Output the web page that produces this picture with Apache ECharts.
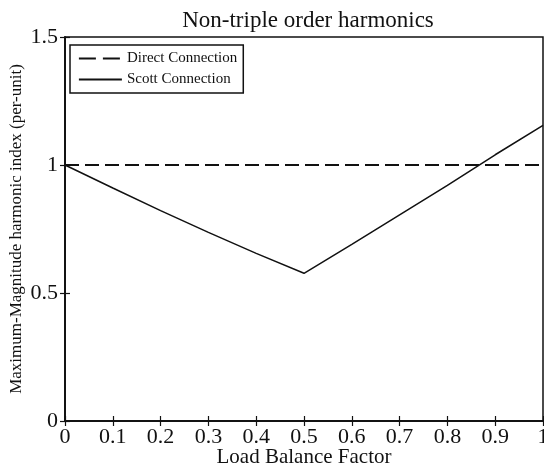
<!DOCTYPE html>
<html>
<head>
<meta charset="utf-8">
<script src="https://cdn.jsdelivr.net/npm/echarts@6/dist/echarts.min.js"></script>
<style>html,body{margin:0;padding:0;background:#fff;}#c{width:544px;height:468px;}</style>
</head>
<body>
<div id="c"></div>
<script>
var loadFactor = [0, 0.1, 0.2, 0.3, 0.4, 0.5, 0.6, 0.7, 0.8, 0.9, 1.0];
var directConn = [1, 1, 1, 1, 1, 1, 1, 1, 1, 1, 1];
var scottConn = [1.0, 0.91, 0.822, 0.737, 0.655, 0.577, 0.69, 0.805, 0.92, 1.04, 1.155];
var xTickLabels = ['0', '0.1', '0.2', '0.3', '0.4', '0.5', '0.6', '0.7', '0.8', '0.9', '1'];
var yTickLabels = {0: '0', 0.5: '0.5', 1: '1', 1.5: '1.5'};

var FONT = '"Liberation Serif", "DejaVu Serif", serif';
var chart = echarts.init(document.getElementById('c'));
function pairs(xs, ys) { return xs.map(function (x, i) { return [x, ys[i]]; }); }
var tick = {show: true, inside: true, length: 5, lineStyle: {color: '#111', width: 1.2}};
chart.setOption({
  animation: false,
  backgroundColor: '#fff',
  title: {
    text: 'Non-triple order harmonics',
    left: 303, top: 4, textAlign: 'center',
    textStyle: {fontFamily: FONT, fontSize: 23, fontWeight: 'normal', color: '#111'}
  },
  grid: {left: 65, right: 1, top: 37, bottom: 47, show: true, borderColor: '#111', borderWidth: 1.5,
    containLabel: false, outerBoundsMode: 'none'},
  legend: {
    orient: 'vertical', left: 70, top: 45,
    itemWidth: 43, itemHeight: 14, itemGap: 6,
    padding: [6, 6, 6, 8],
    borderColor: '#111', borderWidth: 1.5,
    itemStyle: {color: 'rgba(0,0,0,0)', borderWidth: 0, opacity: 0},
    textStyle: {fontFamily: FONT, fontSize: 15, color: '#111'},
    data: [
      {name: 'Direct Connection', lineStyle: {type: [17, 7], width: 1.8, color: '#111'}},
      {name: 'Scott Connection', lineStyle: {type: 'solid', width: 1.8, color: '#111'}}
    ]
  },
  xAxis: [{
    type: 'value', min: 0, max: 1, interval: 0.1,
    name: 'Load Balance Factor', nameLocation: 'middle', nameGap: 26, nameMoveOverlap: false,
    nameTextStyle: {fontFamily: FONT, fontSize: 21, color: '#111'},
    axisLine: {show: true, lineStyle: {color: '#111', width: 1.5}},
    axisTick: tick,
    axisLabel: {fontFamily: FONT, fontSize: 22, color: '#111', margin: 5,
      formatter: function (v) { return xTickLabels[Math.round(v * 10)]; }},
    splitLine: {show: false}
  }, {
    type: 'value', min: 0, max: 1, interval: 0.1, position: 'top',
    axisLine: {show: true, lineStyle: {color: '#111', width: 1.5}},
    axisTick: tick, axisLabel: {show: false}, splitLine: {show: false}
  }],
  yAxis: [{
    type: 'value', min: 0, max: 1.5, interval: 0.5,
    name: 'Maximum-Magnitude harmonic index (per-unit)', nameLocation: 'middle', nameGap: 40, nameMoveOverlap: false,
    nameTextStyle: {fontFamily: FONT, fontSize: 17, color: '#111'},
    axisLine: {show: true, lineStyle: {color: '#111', width: 1.5}},
    axisTick: tick,
    axisLabel: {fontFamily: FONT, fontSize: 22, color: '#111', margin: 7,
      formatter: function (v) { return yTickLabels[v]; }},
    splitLine: {show: false}
  }, {
    type: 'value', min: 0, max: 1.5, interval: 0.5, position: 'right',
    axisLine: {show: true, lineStyle: {color: '#111', width: 1.5}},
    axisTick: tick, axisLabel: {show: false}, splitLine: {show: false}
  }],
  series: [{
    name: 'Direct Connection', type: 'line', symbol: 'none',
    data: pairs(loadFactor, directConn),
    lineStyle: {color: '#111', width: 1.8, type: [14, 6]},
    itemStyle: {color: '#111'}
  }, {
    name: 'Scott Connection', type: 'line', symbol: 'none',
    data: pairs(loadFactor, scottConn),
    lineStyle: {color: '#111', width: 1.5, type: 'solid'},
    itemStyle: {color: '#111'}
  }]
});
</script>
</body>
</html>
